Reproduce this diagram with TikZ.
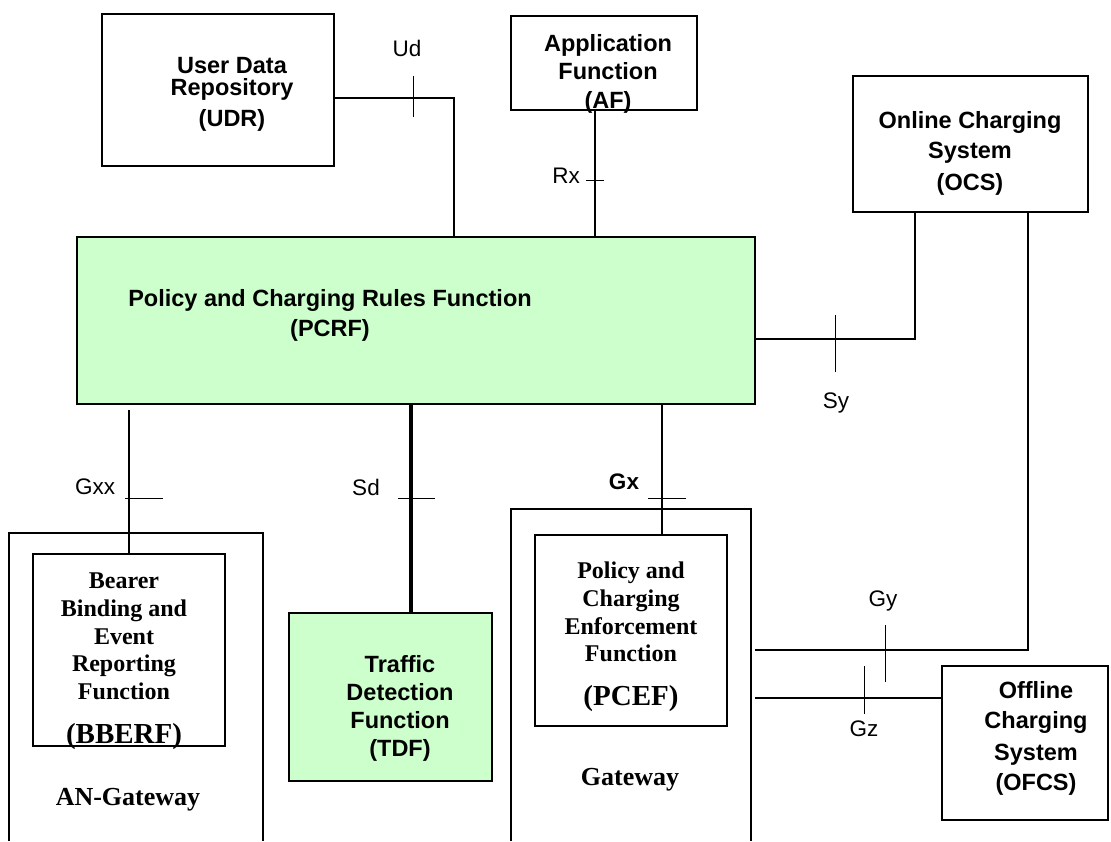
\documentclass[tikz,border=0pt]{standalone}
\usepackage{fontspec}
\setmainfont{Liberation Sans}
\newfontfamily\timesfont{Liberation Serif}
\usetikzlibrary{positioning}
\definecolor{pcrfgreen}{RGB}{204,255,204}

\begin{document}
\begin{tikzpicture}[x=1pt,y=-1pt,
  box/.style={draw, line width=1.4pt, inner sep=0pt, outer sep=0pt},
  greenbox/.style={box, fill=pcrfgreen},
  hold/.style={inner sep=0pt, outer sep=0pt},
  frame/.style={line width=1.4pt},
  txt/.style={font=\bfseries\fontsize{23.5}{28}\selectfont, align=center, inner sep=0pt, anchor=north},
  serif/.style={font=\timesfont\bfseries\fontsize{24}{27.6}\selectfont, align=center, inner sep=0pt, anchor=north},
  abbr/.style={font=\timesfont\bfseries\fontsize{29}{34}\selectfont, inner sep=0pt},
  gwlabel/.style={font=\timesfont\bfseries\fontsize{26}{30}\selectfont, inner sep=0pt},
  iface/.style={font=\fontsize{22.5}{27}\selectfont, inner sep=0pt},
  link/.style={line width=1.3pt},
  tick/.style={line width=1pt}]
\useasboundingbox (0,0) rectangle (1111,841);

% gateways, open at the bottom
\node[hold, minimum width=254pt, minimum height=308pt] (angw) at (136,687) {};
\node[hold, minimum width=240pt, minimum height=332pt] (gw) at (631,675) {};
\draw[frame] (angw.south west) |- (angw.north east) -- (angw.south east);
\draw[frame] (gw.south west) |- (gw.north east) -- (gw.south east);

% functions
\node[box, minimum width=232pt, minimum height=152pt] (udr) at (218,90) {};
\node[box, minimum width=186pt, minimum height=94pt] (af) at (604,63) {};
\node[box, minimum width=235pt, minimum height=136pt] (ocs) at (970.5,144) {};
\node[greenbox, minimum width=678pt, minimum height=167pt] (pcrf) at (416,320.5) {};
\node[greenbox, minimum width=203pt, minimum height=168pt] (tdf) at (390.5,697) {};
\node[box, minimum width=192pt, minimum height=192pt] (bberf) at (129,650) {};
\node[box, minimum width=192pt, minimum height=191pt] (pcef) at (631,630.5) {};
\node[box, minimum width=166pt, minimum height=154pt] (ofcs) at (1025,743) {};

\node[txt] (udrtext) at (232,57) {User Data\\[-6pt]Repository\\[3pt](UDR)};
\node[txt] (aftext) at (608,34.5) {Application\\Function\\[1pt](AF)};
\node[txt] (ocstext) at (970,111.5) {Online Charging\\[2pt]System\\[4pt](OCS)};
\node[txt] (pcrftext) at (330,289.5) {Policy and Charging Rules Function\\[2pt](PCRF)};
\node[txt] (tdftext) at (400,655.5) {Traffic\\Detection\\Function\\(TDF)};
\node[txt] (ofcstext) at (1036,681.5) {Offline\\[2pt]Charging\\[4pt]System\\[2pt](OFCS)};
\node[serif] (bbtext) at (124,573) {Bearer\\Binding and\\Event\\Reporting\\Function};
\node[abbr] (bbabbr) at (124,737) {(BBERF)};
\node[serif] (pceftext) at (631,562) {Policy and\\Charging\\Enforcement\\Function};
\node[abbr] (pcefabbr) at (631,699) {(PCEF)};
\node[gwlabel] (angwtext) at (128,800) {AN-Gateway};
\node[gwlabel] (gwtext) at (630,780) {Gateway};

% reference points
\coordinate (ud) at (454,98);
\coordinate (rx) at (595,180);
\coordinate (sy) at (915,339);
\coordinate (gy) at (1028,650);
\coordinate (gz) at (864,698);
\coordinate (gx) at (662,498);
\coordinate (sd) at (411,498);
\coordinate (gxxtop) at (129,410);
\coordinate (gwgap) at ([xshift=4pt]gw.east);

% interfaces
\draw[link] (udr.east |- ud) -| (ud |- pcrf.north);
\draw[link] (rx |- af.south) -- (rx |- pcrf.north);
\draw[link] (pcrf.east |- sy) -| (sy |- ocs.south);
\draw[link] (gy |- ocs.south) |- (gwgap |- gy);
\draw[link] (gwgap |- gz) -- (ofcs.west |- gz);
\draw[link] (gx |- pcrf.south) -- (gx |- pcef.north);
\draw[link] (gxxtop) -- (bberf.north);
\draw[line width=4pt] (sd |- pcrf.south) -- (sd |- tdf.north);

\foreach \a/\b in {{413,76}/{413,117},{586,180}/{604,180},{835,315}/{835,372},
  {885,625}/{885,682},{864,666}/{864,714},{648,498}/{686,498},
  {125,498}/{163,498},{398,498}/{435,498}}
  \draw[tick] (\a) -- (\b);

\node[iface] (udl) at (407,48) {Ud};
\node[iface] (rxl) at (566,176) {Rx};
\node[iface] (syl) at (836,403) {Sy};
\node[iface] (gxxl) at (95,487) {Gxx};
\node[iface] (sdl) at (366,487) {Sd};
\node[iface, font=\bfseries\fontsize{22.5}{27}\selectfont] (gxl) at (624,482) {Gx};
\node[iface] (gyl) at (883,601) {Gy};
\node[iface] (gzl) at (864,729) {Gz};
\end{tikzpicture}
\end{document}
